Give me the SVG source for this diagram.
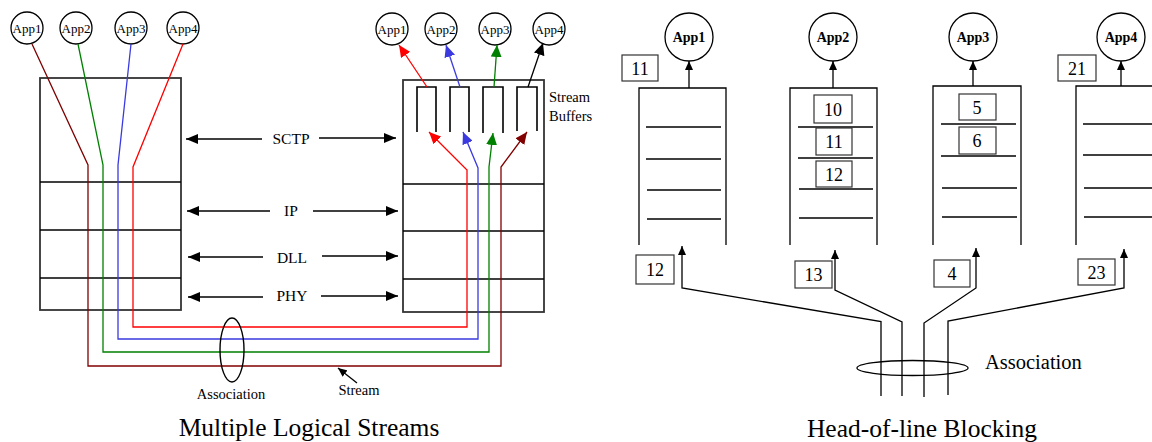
<svg xmlns="http://www.w3.org/2000/svg" width="1152" height="442" viewBox="0 0 1152 442">
  <style>
    text { font-family: "Liberation Serif", "Times New Roman", serif; fill: #000; }
    .app { font-size: 13px; text-anchor: middle; }
    .appb { font-size: 14px; font-weight: bold; text-anchor: middle; }
    .layer { font-size: 15.5px; text-anchor: middle; }
    .lbl { font-size: 14.5px; }
    .num { font-size: 18px; text-anchor: middle; }
    .title { font-size: 25.5px; text-anchor: middle; }
    .ring { fill: #fff; stroke: #000; stroke-width: 1.3; }
    .box { fill: none; stroke: #333; stroke-width: 1.8; }
    .sep { stroke: #000; stroke-width: 1.3; }
    .wire { fill: none; stroke-width: 1.3; }
    .blk { fill: none; stroke: #000; stroke-width: 1.3; }
    .nbox { fill: #fff; stroke: #333; stroke-width: 1.2; }
  </style>
  <defs>
    <marker id="ah" markerUnits="userSpaceOnUse" markerWidth="12" markerHeight="10" refX="12" refY="5" orient="auto-start-reverse">
      <path d="M0,0 L12,5 L0,10 z" fill="#000"/>
    </marker>
    <marker id="ahs" markerUnits="userSpaceOnUse" markerWidth="9" markerHeight="8" refX="9" refY="4" orient="auto">
      <path d="M0,0 L9,4 L0,8 z" fill="#000"/>
    </marker>
    <marker id="ah-red" markerUnits="userSpaceOnUse" markerWidth="12" markerHeight="11" refX="12" refY="5.5" orient="auto">
      <path d="M0,0 L12,5.5 L0,11 z" fill="#ff0000"/>
    </marker>
    <marker id="ah-blue" markerUnits="userSpaceOnUse" markerWidth="12" markerHeight="11" refX="12" refY="5.5" orient="auto">
      <path d="M0,0 L12,5.5 L0,11 z" fill="#3a3ae0"/>
    </marker>
    <marker id="ah-green" markerUnits="userSpaceOnUse" markerWidth="12" markerHeight="11" refX="12" refY="5.5" orient="auto">
      <path d="M0,0 L12,5.5 L0,11 z" fill="#008000"/>
    </marker>
    <marker id="ah-dred" markerUnits="userSpaceOnUse" markerWidth="12" markerHeight="11" refX="12" refY="5.5" orient="auto">
      <path d="M0,0 L12,5.5 L0,11 z" fill="#800000"/>
    </marker>
    <marker id="ah-black" markerUnits="userSpaceOnUse" markerWidth="12" markerHeight="11" refX="12" refY="5.5" orient="auto">
      <path d="M0,0 L12,5.5 L0,11 z" fill="#000"/>
    </marker>
  </defs>
  <rect width="1152" height="442" fill="#fff"/>

  <!-- ===== Multiple logical streams ===== -->
  <g id="sender-stack">
    <rect class="box" x="40" y="78" width="141" height="232"/>
    <line class="sep" x1="40" y1="182" x2="181" y2="182"/>
    <line class="sep" x1="40" y1="230" x2="181" y2="230"/>
    <line class="sep" x1="40" y1="278" x2="181" y2="278"/>
  </g>
  <g id="receiver-stack">
    <rect class="box" x="403" y="80" width="141" height="232"/>
    <line class="sep" x1="403" y1="184" x2="544" y2="184"/>
    <line class="sep" x1="403" y1="231" x2="544" y2="231"/>
    <line class="sep" x1="403" y1="279" x2="544" y2="279"/>
  </g>
  <g id="stream-buffers" fill="none" stroke="#000" stroke-width="1.6">
    <path d="M417,132 V87 H436 V132"/>
    <path d="M450,132 V87 H469 V132"/>
    <path d="M483,133 V87 H503 V133"/>
    <path d="M517,131 V87 H537 V131"/>
    <text class="lbl" x="549" y="102" stroke="none">Stream</text>
    <text class="lbl" x="549" y="121" stroke="none">Buffers</text>
  </g>
  <g id="sender-apps">
    <circle class="ring" cx="27" cy="28" r="16"/><text class="app" x="27" y="33">App1</text>
    <circle class="ring" cx="76" cy="28" r="16"/><text class="app" x="76" y="33">App2</text>
    <circle class="ring" cx="131" cy="28" r="16"/><text class="app" x="131" y="33">App3</text>
    <circle class="ring" cx="183" cy="28" r="16"/><text class="app" x="183" y="33">App4</text>
  </g>
  <g id="receiver-apps">
    <circle class="ring" cx="392" cy="29" r="16"/><text class="app" x="392" y="34">App1</text>
    <circle class="ring" cx="441" cy="29" r="16"/><text class="app" x="441" y="34">App2</text>
    <circle class="ring" cx="495" cy="29" r="16"/><text class="app" x="495" y="34">App3</text>
    <circle class="ring" cx="549" cy="29" r="16"/><text class="app" x="549" y="34">App4</text>
  </g>
  <g id="layers">
    <text class="layer" x="291" y="144">SCTP</text>
    <text class="layer" x="291" y="216">IP</text>
    <text class="layer" x="292" y="263">DLL</text>
    <text class="layer" x="292" y="301">PHY</text>
  </g>
  <g id="stream-connectors">
    <!-- streams through the association -->
    <path class="wire" stroke="#800000" d="M32,44 L88,165 V366 H501 V167 L527,132" marker-end="url(#ah-dred)"/>
    <path class="wire" stroke="#008000" d="M78,44 L103,165 V352 H489 V167 L493,133" marker-end="url(#ah-green)"/>
    <path class="wire" stroke="#3a3ae0" d="M131,44 L118,165 V339 H478 V168 L463,132" marker-end="url(#ah-blue)"/>
    <path class="wire" stroke="#ff0000" d="M183,44 L133,167 V327 H467 V170 L429,132" marker-end="url(#ah-red)"/>
    <!-- buffers to receiving applications -->
    <line class="wire" stroke="#ff0000" x1="427" y1="87" x2="399" y2="45" marker-end="url(#ah-red)"/>
    <line class="wire" stroke="#3a3ae0" x1="460" y1="87" x2="446" y2="45" marker-end="url(#ah-blue)"/>
    <line class="wire" stroke="#008000" x1="494" y1="87" x2="497" y2="45" marker-end="url(#ah-green)"/>
    <line class="wire" stroke="#000" x1="528" y1="87" x2="543" y2="43" marker-end="url(#ah-black)"/>
    <!-- peer layer arrows -->
    <line class="blk" stroke-width="1.8" x1="262" y1="139" x2="186" y2="139" marker-end="url(#ah)"/>
    <line class="blk" stroke-width="1.8" x1="319" y1="138" x2="396" y2="138" marker-end="url(#ah)"/>
    <line class="blk" stroke-width="1.8" x1="270" y1="211" x2="187" y2="211" marker-end="url(#ah)"/>
    <line class="blk" stroke-width="1.8" x1="313" y1="211" x2="398" y2="211" marker-end="url(#ah)"/>
    <line class="blk" stroke-width="1.8" x1="263" y1="257" x2="188" y2="257" marker-end="url(#ah)"/>
    <line class="blk" stroke-width="1.8" x1="322" y1="256" x2="398" y2="256" marker-end="url(#ah)"/>
    <line class="blk" stroke-width="1.8" x1="263" y1="297" x2="188" y2="297" marker-end="url(#ah)"/>
    <line class="blk" stroke-width="1.8" x1="321" y1="296" x2="398" y2="296" marker-end="url(#ah)"/>
    <!-- stream pointer -->
    <line class="blk" x1="357" y1="383" x2="338" y2="368" marker-end="url(#ahs)"/>
  </g>
  <g id="association-left">
    <ellipse cx="232" cy="350" rx="12" ry="32" fill="none" stroke="#000" stroke-width="1.4"/>
    <text class="lbl" x="231" y="399" text-anchor="middle">Association</text>
    <text class="lbl" x="359" y="395" text-anchor="middle">Stream</text>
  </g>
  <text class="title" x="309" y="436">Multiple Logical Streams</text>

  <!-- ===== Head-of-line blocking ===== -->
  <g id="queue-app1">
    <path class="blk" d="M639,245 V88 H726 V245"/>
    <line class="sep" x1="646" y1="127" x2="721" y2="127"/>
    <line class="sep" x1="646" y1="159" x2="721" y2="159"/>
    <line class="sep" stroke-width="1.8" x1="647" y1="190" x2="721" y2="190"/>
    <line class="sep" stroke-width="1.8" x1="647" y1="219" x2="721" y2="219"/>
    <circle class="ring" cx="689" cy="37" r="24"/>
    <text class="appb" x="689" y="42">App1</text>
    <rect class="nbox" x="622" y="55" width="36" height="26"/>
    <text class="num" x="640" y="75">11</text>
  </g>
  <g id="queue-app2">
    <path class="blk" d="M790,245 V88 H877 V245"/>
    <rect class="nbox" x="814" y="95" width="38" height="28"/>
    <text class="num" x="833" y="116">10</text>
    <line class="sep" x1="798" y1="127" x2="873" y2="127"/>
    <rect class="nbox" x="816" y="128" width="36" height="27"/>
    <text class="num" x="834" y="148">11</text>
    <line class="sep" x1="798" y1="158" x2="873" y2="158"/>
    <rect class="nbox" x="816" y="161" width="36" height="26"/>
    <text class="num" x="834" y="181">12</text>
    <line class="sep" stroke-width="1.8" x1="799" y1="189" x2="873" y2="189"/>
    <line class="sep" stroke-width="1.8" x1="799" y1="218" x2="873" y2="218"/>
    <circle class="ring" cx="833" cy="37" r="24"/>
    <text class="appb" x="833" y="42">App2</text>
  </g>
  <g id="queue-app3">
    <path class="blk" d="M933,245 V86 H1021 V245"/>
    <rect class="nbox" x="959" y="94" width="37" height="26"/>
    <text class="num" x="977" y="114">5</text>
    <line class="sep" x1="941" y1="124" x2="1016" y2="124"/>
    <rect class="nbox" x="959" y="127" width="37" height="27"/>
    <text class="num" x="977" y="147">6</text>
    <line class="sep" x1="941" y1="156" x2="1016" y2="156"/>
    <line class="sep" x1="942" y1="188" x2="1017" y2="188"/>
    <line class="sep" x1="942" y1="217" x2="1017" y2="217"/>
    <circle class="ring" cx="973" cy="37" r="24"/>
    <text class="appb" x="973" y="42">App3</text>
  </g>
  <g id="queue-app4">
    <path class="blk" d="M1076,245 V86 H1164 V245"/>
    <line class="sep" x1="1083" y1="124" x2="1160" y2="124"/>
    <line class="sep" x1="1083" y1="155" x2="1160" y2="155"/>
    <line class="sep" x1="1084" y1="188" x2="1160" y2="188"/>
    <line class="sep" x1="1084" y1="217" x2="1160" y2="217"/>
    <circle class="ring" cx="1121" cy="37" r="24"/>
    <text class="appb" x="1121" y="42">App4</text>
    <rect class="nbox" x="1058" y="55" width="38" height="26"/>
    <text class="num" x="1077" y="75">21</text>
  </g>
  <g id="waiting-chunks">
    <rect class="nbox" x="636" y="255" width="38" height="29"/>
    <text class="num" x="655" y="276">12</text>
    <rect class="nbox" x="795" y="261" width="37" height="27"/>
    <text class="num" x="813.5" y="281">13</text>
    <rect class="nbox" x="934" y="260" width="36" height="27"/>
    <text class="num" x="952" y="280">4</text>
    <rect class="nbox" x="1078" y="259" width="37" height="26"/>
    <text class="num" x="1096.5" y="279">23</text>
  </g>
  <g id="hol-connectors">
    <line class="blk" x1="689" y1="88" x2="689" y2="61" marker-end="url(#ahs)"/>
    <line class="blk" x1="833" y1="88" x2="833" y2="61" marker-end="url(#ahs)"/>
    <line class="blk" x1="973" y1="86" x2="973" y2="61" marker-end="url(#ahs)"/>
    <line class="blk" x1="1121" y1="86" x2="1121" y2="61" marker-end="url(#ahs)"/>
    <path class="blk" d="M881,396 V321.5 L682,288 V246" marker-end="url(#ahs)"/>
    <path class="blk" d="M902,396 V322 L835,290 V250" marker-end="url(#ahs)"/>
    <path class="blk" d="M924,397 V323 L976,288 V248" marker-end="url(#ahs)"/>
    <path class="blk" d="M948,395 V321 L1124,288 V249" marker-end="url(#ahs)"/>
  </g>
  <g id="association-right">
    <ellipse cx="912.5" cy="368" rx="55.5" ry="7.5" fill="none" stroke="#000" stroke-width="1.3"/>
    <text x="985" y="369" font-size="20.5">Association</text>
  </g>
  <text class="title" x="922" y="437" font-size="24">Head-of-line Blocking</text>
</svg>
